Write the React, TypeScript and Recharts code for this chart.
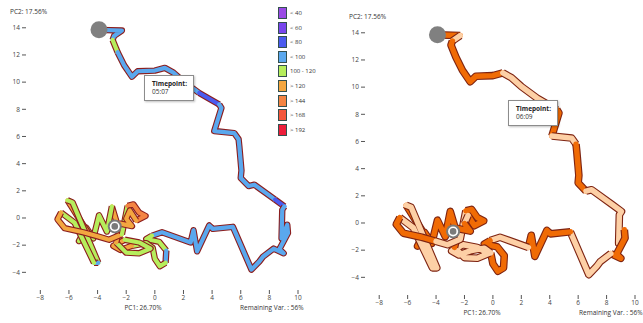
import { LineChart, Line, XAxis, YAxis, ReferenceDot } from 'recharts'

type Pt = [number, number]

// PCA trajectory (PC1, PC2)
const upperLeg: Pt[] = [
    [-3.9, 13.85], [-2.3, 13.8], [-2.85, 13.4], [-2.95, 13.1], [-2.6, 12.2],
    [-2.15, 11.25], [-1.6, 10.4], [-1.2, 10.8], [0.0, 10.85], [0.7, 11.05],
    [1.3, 10.7], [2.0, 10.05], [3.1, 9.2], [4.5, 8.35], [4.65, 8.1], [4.15, 6.4],
]
const eastLeg: Pt[] = [
    [5.55, 6.25], [5.85, 5.8], [5.9, 5.3], [6.05, 3.5], [6.0, 2.95],
    [6.55, 2.35], [6.95, 2.45], [8.4, 1.35], [9.05, 0.85], [8.9, 0.6],
    [8.85, -1.5], [9.25, -0.5], [9.3, -1.1], [8.7, -2.3], [9.0, -2.6],
    [8.3, -2.25], [7.55, -2.85], [7.3, -3.2], [6.75, -3.8], [5.45, -0.65],
    [4.05, -0.8], [3.8, -0.55], [2.95, -2.45], [2.7, -0.9], [2.5, -1.8], [0.5, -1.05],
]
const clusterLeg: Pt[] = [
    [-0.2, -1.3], [-0.6, -1.55], [0.3, -1.75], [0.8, -2.4], [0.75, -3.3],
    [0.35, -3.55], [0.0, -3.0], [-0.15, -2.2], [-0.6, -1.85], [-1.6, -2.05],
    [-2.4, -2.35], [-2.9, -2.05], [-2.1, -1.6], [-1.1, -1.8], [-0.3, -2.25],
    [-1.1, -2.6], [-2.0, -2.55], [-2.7, -1.8], [-2.5, -0.9], [-3.0, 0.85],
    [-3.35, -1.0], [-3.9, 0.2], [-4.3, -1.5], [-4.8, -0.7], [-5.3, -1.7],
    [-4.6, -1.2], [-6.1, 1.3], [-5.75, 1.15], [-3.95, -3.3], [-4.25, -3.3],
    [-5.6, -0.35], [-6.55, 0.4], [-6.8, -0.1], [-6.3, -0.75], [-5.0, -1.05],
    [-4.0, -1.35], [-3.2, -1.6], [-2.3, -1.2], [-1.9, 0.9], [-1.5, 1.0],
    [-1.1, 0.4], [-0.65, 0.15], [-1.3, -0.2], [-1.75, 0.55], [-2.0, -0.05],
    [-1.6, -0.6], [-2.5, -0.4],
]

const startPoint: Pt = [-3.9, 13.85]
const targetPoint: Pt = [-2.8, -0.62]

const xTicks = [-8, -6, -4, -2, 0, 2, 4, 6, 8, 10]
const yTicks = [-4, -2, 0, 2, 4, 6, 8, 10, 12, 14]

const binLabels = ['< 40', '< 60', '< 80', '< 100', '100 - 120', '> 120', '> 144', '> 168', '> 192']

// [first point index, bin] - a run lasts until the next one starts
const leftRuns: [number, string][] = [
    [0, '< 100'], [3, '100 - 120'], [4, '< 100'], [12, '< 80'], [13, '< 100'],
    [23, '< 80'], [24, '< 100'], [42, '100 - 120'], [45, '< 100'], [46, '100 - 120'],
    [51, '> 120'], [54, '100 - 120'], [59, '> 120'], [61, '100 - 120'], [67, '> 120'],
    [68, '100 - 120'], [70, '< 100'], [71, '100 - 120'], [73, '> 120'], [79, '100 - 120'],
    [80, '> 144'], [84, '> 120'],
]
const rightRuns: [number, string][] = [
    [0, 'high'], [1, 'low'], [2, 'high'], [9, 'low'], [13, 'high'], [15, 'low'],
    [17, 'high'], [21, 'low'], [27, 'high'], [31, 'low'], [35, 'high'], [40, 'low'],
    [42, 'high'], [49, 'low'], [59, 'high'], [68, 'low'], [73, 'high'], [77, 'low'],
    [80, 'high'], [85, 'low'], [86, 'high'],
]

const binColors: Record<string, string> = {
    '< 40': '#9a4be6',
    '< 60': '#7846ee',
    '< 80': '#4a5bef',
    '< 100': '#5aa8ee',
    '100 - 120': '#b6ee5c',
    '> 120': '#f3a640',
    '> 144': '#f48443',
    '> 168': '#f4573c',
    '> 192': '#ee1f3b',
    high: '#f06b05',
    low: '#fdd0a6',
}

const trajectory = [...upperLeg, ...eastLeg, ...clusterLeg]

function buildSegments(runs: [number, string][]) {
    return runs.map(([start, bin], i) => {
        const end = i + 1 < runs.length ? runs[i + 1][0] : trajectory.length - 1
        return {
            bin,
            pts: trajectory.slice(start, end + 1).map(([x, y]) => ({ x, y })),
        }
    })
}

const font = '"Open Sans", sans-serif'
const fmt = (v: number) => (v < 0 ? `\u2212${-v}` : `${v}`)

function Panel({
    left,
    top,
    runs,
    rightMargin,
    outline,
    outer,
    inner,
    stamp,
    box,
    legend,
}: {
    left: number
    top: number
    runs: [number, string][]
    rightMargin: number
    outline: string
    outer: number
    inner: number
    stamp: string
    box: { x: number; y: number }
    legend?: boolean
}) {
    const segs = buildSegments(runs)
    const txt = { position: 'absolute' as const, fontFamily: font, fontSize: 6.5, color: '#333', whiteSpace: 'nowrap' as const, lineHeight: '8px' }

    return (
        <div style={{ position: 'absolute', left, top, width: 320, height: 323 }}>
            <LineChart width={320} height={323} margin={{ top: 21, right: rightMargin, bottom: 8, left: 0 }}>
                <XAxis
                    type="number"
                    dataKey="x"
                    domain={[-9, 10]}
                    ticks={xTicks}
                    allowDataOverflow
                    axisLine={false}
                    tickLine={{ stroke: '#555' }}
                    tickSize={4}
                    tickMargin={1}
                    height={25}
                    tick={{ fontSize: 6.5, fill: '#444', fontFamily: font }}
                    tickFormatter={fmt}
                />
                <YAxis
                    type="number"
                    domain={[-5.3, 14.5]}
                    ticks={yTicks}
                    allowDataOverflow
                    axisLine={false}
                    tickLine={{ stroke: '#555' }}
                    tickSize={4}
                    tickMargin={2}
                    width={26}
                    tick={{ fontSize: 6.5, fill: '#444', fontFamily: font }}
                    tickFormatter={fmt}
                />
                {segs.flatMap((s, i) => [
                    <Line
                        key={`o${i}`}
                        data={s.pts}
                        dataKey="y"
                        type="linear"
                        stroke={outline}
                        strokeWidth={outer}
                        strokeLinejoin="round"
                        strokeLinecap="butt"
                        dot={false}
                        activeDot={false}
                        isAnimationActive={false}
                    />,
                    <Line
                        key={`f${i}`}
                        data={s.pts}
                        dataKey="y"
                        type="linear"
                        stroke={binColors[s.bin]}
                        strokeWidth={inner}
                        strokeLinejoin="round"
                        strokeLinecap="round"
                        dot={false}
                        activeDot={false}
                        isAnimationActive={false}
                    />,
                ])}
                <ReferenceDot x={startPoint[0]} y={startPoint[1]} r={8.5} fill="#808080" stroke="none" />
                <ReferenceDot x={targetPoint[0]} y={targetPoint[1]} r={7} fill="#7a7a7a" stroke="none" />
                <ReferenceDot x={targetPoint[0]} y={targetPoint[1]} r={5} fill="#ffffff" stroke="none" />
                <ReferenceDot x={targetPoint[0]} y={targetPoint[1]} r={3.3} fill="#7a7a7a" stroke="none" />
            </LineChart>

            <div style={{ ...txt, left: 10, top: 8 }}>PC2: 17.56%</div>
            <div style={{ ...txt, left: 143, top: 304, transform: 'translateX(-50%)' }}>PC1: 26.70%</div>
            <div style={{ ...txt, left: 240, top: 304 }}>Remaining Var. : 56%</div>

            <div
                style={{
                    position: 'absolute',
                    left: box.x,
                    top: box.y,
                    width: 50,
                    height: 26,
                    boxSizing: 'border-box',
                    background: '#fff',
                    border: '1px solid #8c8c8c',
                    boxShadow: '1px 1px 2px rgba(0,0,0,0.25)',
                    fontFamily: font,
                    fontSize: 6.5,
                    lineHeight: '8px',
                    color: '#333',
                    padding: '4px 0 0 7px',
                }}
            >
                <div style={{ fontWeight: 700, color: '#222' }}>Timepoint:</div>
                <div>{stamp}</div>
            </div>

            {legend &&
                binLabels.map((b, i) => (
                    <div key={b} style={{ position: 'absolute', left: 278, top: 7 + i * 14.6, height: 12 }}>
                        <div
                            style={{
                                position: 'absolute',
                                left: 0,
                                top: 0,
                                width: 9,
                                height: 12,
                                boxSizing: 'border-box',
                                background: binColors[b],
                                border: '1.5px solid #34504f',
                            }}
                        />
                        <div style={{ ...txt, left: 12, top: 2, fontSize: 6 }}>{b}</div>
                    </div>
                ))}
        </div>
    )
}

export default function App() {
    return (
        <div style={{ position: 'absolute', left: 0, top: 0, width: 643, height: 323, overflow: 'hidden', background: '#fff' }}>
            <Panel
                left={0}
                top={0}
                runs={leftRuns}
                rightMargin={22}
                outline="#8b1d1d"
                outer={6.4}
                inner={4.2}
                stamp="05:07"
                box={{ x: 144, y: 75 }}
                legend
            />
            <Panel
                left={339}
                top={5}
                runs={rightRuns}
                rightMargin={24}
                outline="#7e2412"
                outer={7.6}
                inner={5.4}
                stamp="06:09"
                box={{ x: 169, y: 95 }}
            />
        </div>
    )
}
